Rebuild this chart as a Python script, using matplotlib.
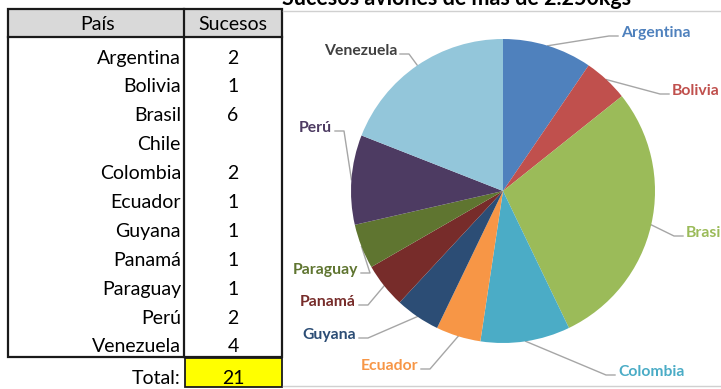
import numpy as np
import matplotlib.pyplot as plt
from matplotlib.patches import Rectangle

plt.rcParams['font.family'] = ['Lato', 'DejaVu Sans']

paises = ['Argentina', 'Bolivia', 'Brasil', 'Chile', 'Colombia', 'Ecuador',
          'Guyana', 'Panamá', 'Paraguay', 'Perú', 'Venezuela']
sucesos = [2, 1, 6, 0, 2, 1, 1, 1, 1, 2, 4]
titulo = 'Sucesos aviones de más de 2.250kgs'

colores = ['#4F81BD', '#C0504D', '#9BBB59', '#8064A2', '#4BACC6', '#F79646',
           '#2C4D75', '#772C2A', '#5F7530', '#4D3B62', '#93C6DA']
colores_txt = ['#4F81BD', '#C0504D', '#9BBB59', '#8064A2', '#4BACC6', '#F79646',
               '#2C4D75', '#772C2A', '#5F7530', '#4D3B62', '#404040']

# label anchors in pixels (x, y, ha); Chile has no label
etiquetas = {
    'Argentina': (621, 33, 'left'),
    'Bolivia': (672, 91, 'left'),
    'Brasil': (686, 233, 'left'),
    'Colombia': (618, 372, 'left'),
    'Ecuador': (418, 366, 'right'),
    'Guyana': (356, 335, 'right'),
    'Panamá': (356, 302, 'right'),
    'Paraguay': (358, 270, 'right'),
    'Perú': (332, 128, 'right'),
    'Venezuela': (397, 51, 'right'),
}

W, H = 721, 389
CX, CY, R = 503, 191, 152


def main():
    fig = plt.figure(figsize=(W / 100, H / 100), dpi=100)
    ax = fig.add_axes([0, 0, 1, 1])
    ax.set_xlim(0, W)
    ax.set_ylim(H, 0)
    ax.axis('off')

    # --- table ---
    x0, xm, x1 = 8, 184, 282
    y0, yh, yb = 9, 37, 357
    ax.add_patch(Rectangle((x0, y0), x1 - x0, yh - y0, fc='#D9D9D9', ec='none'))
    ax.add_patch(Rectangle((x0, y0), x1 - x0, yb - y0, fc='none', ec='#1a1a1a', lw=1.6))
    ax.plot([x0, x1], [yh, yh], color='#1a1a1a', lw=1.6)
    ax.plot([xm, xm], [y0, yb], color='#1a1a1a', lw=1.6)
    fs = 14
    ax.text((x0 + xm) / 2 + 2, (y0 + yh) / 2 + 1, 'País', ha='center', va='center', fontsize=fs)
    ax.text((xm + x1) / 2, (y0 + yh) / 2 + 1, 'Sucesos', ha='center', va='center', fontsize=fs)

    row_h = 28.9
    for i, (p, s) in enumerate(zip(paises, sucesos)):
        y = 58 + i * row_h
        ax.text(xm - 3, y, p, ha='right', va='center', fontsize=fs)
        ax.text((xm + x1) / 2, y, str(s) if s else '', ha='center', va='center', fontsize=fs)

    ax.add_patch(Rectangle((xm + 1, yb + 1), x1 - xm - 1, 29, fc='#FFFF00', ec='#1a1a1a', lw=1.3))
    ax.text(xm - 3, yb + 21, 'Total:', ha='right', va='center', fontsize=fs)
    ax.text((xm + x1) / 2, yb + 21, str(sum(sucesos)), ha='center', va='center', fontsize=fs)

    # --- chart frame + title ---
    ax.plot([x1 + 1, W], [11, 11], color='#D0D0D0', lw=1)
    ax.plot([x1 + 1, W], [386, 386], color='#D0D0D0', lw=1)
    ax.text(457, 5, titulo, ha='center', va='baseline', fontsize=15.5, fontweight='bold')

    # --- pie ---
    pax = fig.add_axes([(CX - R) / W, (H - CY - R) / H, 2 * R / W, 2 * R / H])
    wedges, _ = pax.pie(sucesos, colors=colores, startangle=90, counterclock=False,
                        radius=1, wedgeprops=dict(linewidth=0))
    pax.set_xlim(-1, 1)
    pax.set_ylim(-1, 1)
    pax.set_aspect('equal')
    pax.axis('off')

    for w, p, c in zip(wedges, paises, colores_txt):
        if p not in etiquetas:
            continue
        tx, ty, ha = etiquetas[p]
        ang = np.deg2rad((w.theta1 + w.theta2) / 2)
        rx, ry = CX + R * np.cos(ang), CY - R * np.sin(ang)
        d = 1 if ha == 'left' else -1
        ax.plot([rx, tx - d * 12, tx - d * 3], [ry, ty + 3, ty + 3],
                color='#A6A6A6', lw=1, zorder=1)
        ax.text(tx, ty, p, ha=ha, va='center', fontsize=11.3, fontweight='bold', color=c)

    fig.savefig('out.png', dpi=100)


if __name__ == '__main__':
    main()
